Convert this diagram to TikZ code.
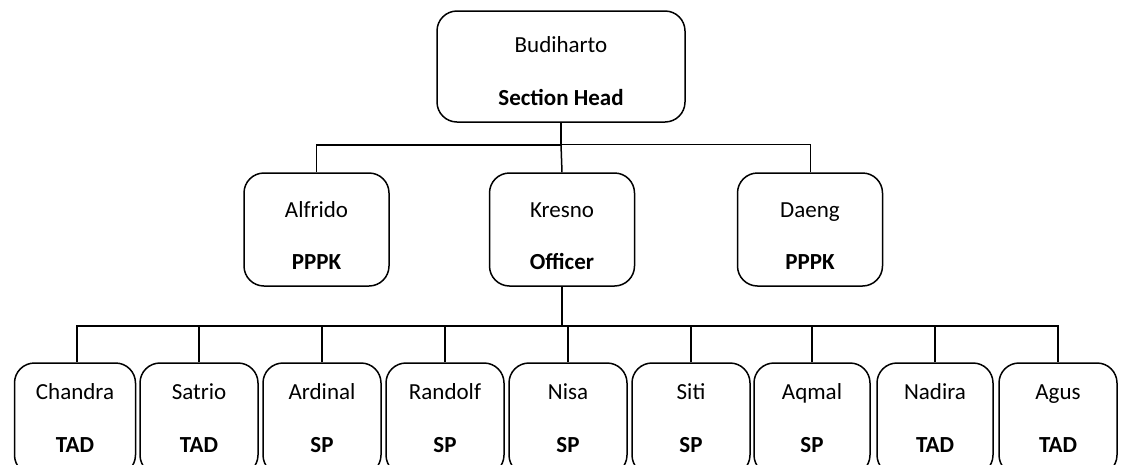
\documentclass[tikz,border=0pt]{standalone}
\usepackage{fontspec}
\setmainfont{Carlito}
\begin{document}
\begin{tikzpicture}[x=1pt,y=-1pt,
    staff/.style={draw,line width=1.5pt,rounded corners=20pt,inner sep=0pt},
    nm/.style={anchor=base,font=\fontsize{23}{27}\selectfont},
    rl/.style={anchor=base,font=\fontsize{23}{27}\selectfont\bfseries},
    wire/.style={line width=1.5pt}]
    \useasboundingbox (0,0) rectangle (1124,464);
    \clip (0,0) rectangle (1124,464);
    % head
    \node[staff,minimum width=248pt,minimum height=111pt] (budi) at (561,66.5) {};
    \node[nm] (budiN) at (561,52) {Budiharto};
    \node[rl] (budiR) at (561,105) {Section Head};
    % second row
    \node[staff,minimum width=145pt,minimum height=113pt] (alf) at (316.5,229.5) {};
    \node[nm] (alfN) at (316.5,217) {Alfrido};
    \node[rl] (alfR) at (316.5,269) {PPPK};
    \node[staff,minimum width=145pt,minimum height=113pt] (kres) at (562,229.5) {};
    \node[nm] (kresN) at (562,217) {Kresno};
    \node[rl] (kresR) at (562,269) {Officer};
    \node[staff,minimum width=145pt,minimum height=113pt] (daeng) at (810,229.5) {};
    \node[nm] (daengN) at (810,217) {Daeng};
    \node[rl] (daengR) at (810,269) {PPPK};
    % third row
    \node[staff,minimum width=121pt,minimum height=112pt] (chan) at (75,419) {};
    \node[nm] (chanN) at (75,399) {Chandra};
    \node[rl] (chanR) at (75,452) {TAD};
    \node[staff,minimum width=118pt,minimum height=112pt] (sat) at (199,419) {};
    \node[nm] (satN) at (199,399) {Satrio};
    \node[rl] (satR) at (199,452) {TAD};
    \node[staff,minimum width=118pt,minimum height=112pt] (ard) at (322,419) {};
    \node[nm] (ardN) at (322,399) {Ardinal};
    \node[rl] (ardR) at (322,452) {SP};
    \node[staff,minimum width=118pt,minimum height=112pt] (rand) at (445,419) {};
    \node[nm] (randN) at (445,399) {Randolf};
    \node[rl] (randR) at (445,452) {SP};
    \node[staff,minimum width=118pt,minimum height=112pt] (nisa) at (568,419) {};
    \node[nm] (nisaN) at (568,399) {Nisa};
    \node[rl] (nisaR) at (568,452) {SP};
    \node[staff,minimum width=118pt,minimum height=112pt] (siti) at (691,419) {};
    \node[nm] (sitiN) at (691,399) {Siti};
    \node[rl] (sitiR) at (691,452) {SP};
    \node[staff,minimum width=116pt,minimum height=112pt] (aqm) at (812,419) {};
    \node[nm] (aqmN) at (812,399) {Aqmal};
    \node[rl] (aqmR) at (812,452) {SP};
    \node[staff,minimum width=116pt,minimum height=112pt] (nad) at (935,419) {};
    \node[nm] (nadN) at (935,399) {Nadira};
    \node[rl] (nadR) at (935,452) {TAD};
    \node[staff,minimum width=118pt,minimum height=112pt] (agus) at (1058,419) {};
    \node[nm] (agusN) at (1058,399) {Agus};
    \node[rl] (agusR) at (1058,452) {TAD};
    % lines
    \draw[wire] (budi.south) -- ++(0,22) coordinate (hub);
    \draw[wire] (hub) -| (alf.north);
    \draw[line width=0.8pt] (hub) -| (daeng.north);
    \draw[wire] (hub) -- (kres.north);
    \draw[line width=2.5pt] (kres.south) -- ++(0,39) coordinate (bus);
    \draw[wire] (bus) -| ([xshift=2pt]chan.north);
    \draw[wire] (bus) -| (agus.north);
    \draw[wire] (sat.north) -- (sat.north |- bus);
    \draw[wire] (ard.north) -- (ard.north |- bus);
    \draw[wire] (rand.north) -- (rand.north |- bus);
    \draw[wire] (nisa.north) -- (nisa.north |- bus);
    \draw[wire] (siti.north) -- (siti.north |- bus);
    \draw[wire] (aqm.north) -- (aqm.north |- bus);
    \draw[wire] (nad.north) -- (nad.north |- bus);
\end{tikzpicture}
\end{document}
